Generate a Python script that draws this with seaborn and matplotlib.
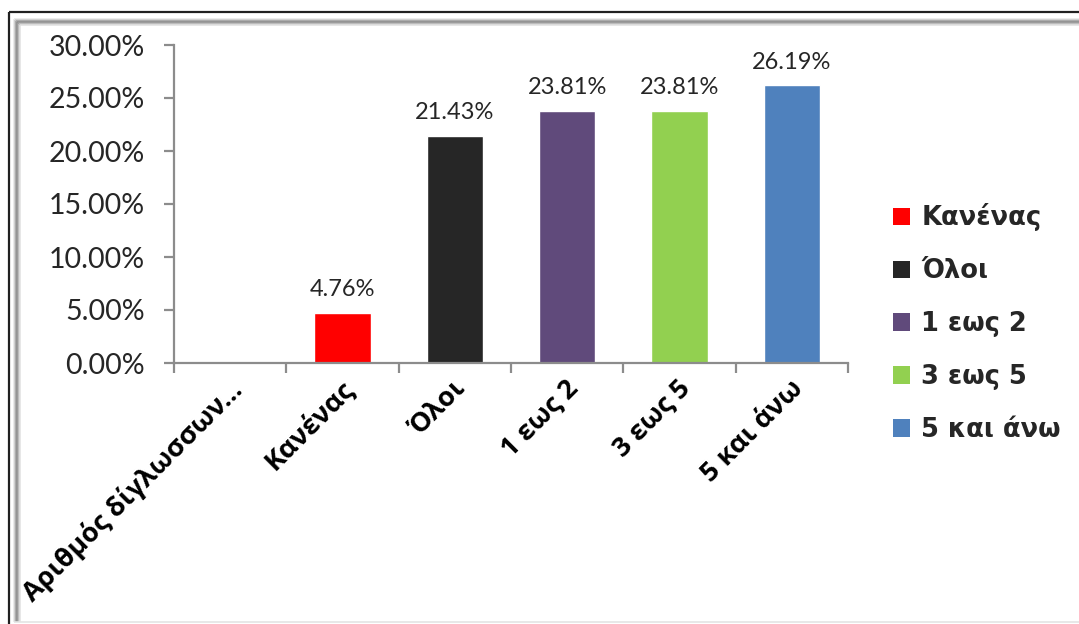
import matplotlib
matplotlib.use("Agg")
import matplotlib.pyplot as plt
from matplotlib.lines import Line2D
from matplotlib.patches import Patch
from matplotlib.ticker import FuncFormatter, MultipleLocator
from matplotlib.transforms import ScaledTranslation
import numpy as np
import pandas as pd
import seaborn as sns

categories = ["Αριθμός δίγλωσσων...", "Κανένας", "Όλοι", "1 εως 2", "3 εως 5", "5 και άνω"]
values = [np.nan, 4.76, 21.43, 23.81, 23.81, 26.19]
colors = ["#FFFFFF", "#FF0000", "#262626", "#604A7B", "#92D050", "#4F81BD"]
legend_labels = ["Κανένας", "Όλοι", "1 εως 2", "3 εως 5", "5 και άνω"]

sns.set_theme(style="white")
plt.rcParams["font.family"] = ["DejaVu Sans"]

W, H = 1079, 624
fig = plt.figure(figsize=(W / 100, H / 100), dpi=100)
fig.patch.set_facecolor("white")

def fx(x):
    return x / W

def fy(y):
    return 1 - y / H

ax = fig.add_axes([fx(174), fy(363), fx(848) - fx(174), fy(45) - fy(363)])

df = pd.DataFrame({"category": categories, "value": values})
palette = dict(zip(categories, colors))
sns.barplot(data=df, x="category", y="value", hue="category", order=categories,
            hue_order=categories, palette=palette, width=0.5, dodge=False,
            legend=False, saturation=1, ax=ax)

ax.set_xlim(-0.5, len(categories) - 0.5)
ax.set_ylim(0, 30)
ax.yaxis.set_major_locator(MultipleLocator(5))
ax.yaxis.set_major_formatter(FuncFormatter(lambda v, _: f"{v:.2f}%"))
ax.set_xlabel("")
ax.set_ylabel("")

num_font = ["Lato", "DejaVu Sans"]

# value labels above each bar
for i, v in enumerate(values):
    if np.isnan(v):
        continue
    ax.annotate(f"{v:.2f}%", (i, v), xytext=(0, 9), textcoords="offset points",
                ha="center", va="bottom", fontsize=17, color="#262626",
                family=num_font, fontweight="normal")

# axes styling
for side in ["top", "right"]:
    ax.spines[side].set_visible(False)
for side in ["left", "bottom"]:
    ax.spines[side].set_color("#8c8c8c")
    ax.spines[side].set_linewidth(1.6)

ax.set_xticks(np.arange(len(categories) + 1) - 0.5, minor=True)
ax.tick_params(axis="x", which="major", length=0, pad=9)
ax.tick_params(axis="x", which="minor", length=7, width=1.6, color="#8c8c8c",
               direction="out", bottom=True)
ax.tick_params(axis="y", length=7, width=1.6, color="#8c8c8c", direction="out",
               left=True, pad=14)
for lab in ax.get_yticklabels():
    lab.set_family(num_font)
    lab.set_fontweight("normal")
    lab.set_fontsize(20.5)
    lab.set_color("#262626")
ax.set_xticks(range(len(categories)))
ax.set_xticklabels(categories, rotation=45, ha="right", va="top", rotation_mode="anchor",
                   fontsize=19.5, fontweight="bold", family=["Open Sans", "DejaVu Sans"],
                   color="black")
shift = ScaledTranslation(-2 / 100, 0, fig.dpi_scale_trans)
for lab in ax.get_xticklabels():
    lab.set_transform(lab.get_transform() + shift)

# legend
handles = [Patch(facecolor=palette[c], edgecolor="none") for c in legend_labels]
leg = fig.legend(handles, legend_labels, loc="upper left",
                 bbox_to_anchor=(fx(870), fy(180)), frameon=False,
                 handlelength=0.65, handleheight=0.65, handletextpad=0.45,
                 labelspacing=1.05, prop={"family": "DejaVu Sans", "weight": "heavy", "size": 18.5})

# chart frame with bevelled edge
def hline(y, x0, x1, color, lw):
    fig.add_artist(Line2D([fx(x0), fx(x1)], [fy(y), fy(y)], color=color, lw=lw,
                          transform=fig.transFigure, solid_capstyle="butt"))

def vline(x, y0, y1, color, lw):
    fig.add_artist(Line2D([fx(x), fx(x)], [fy(y0), fy(y1)], color=color, lw=lw,
                          transform=fig.transFigure, solid_capstyle="butt"))

hline(12, 9, W, "#202020", 1.6)
vline(9, 12, H, "#202020", 1.6)
band = ["#e6e6e6", "#c8c8c8", "#a0a0a0", "#8a8a8a", "#9a9a9a", "#c0c0c0", "#e0e0e0"]
for k, c in enumerate(band):
    hline(19 + k, 14 + k, W, c, 1.1)
    vline(14 + k, 19 + k, 622, c, 1.1)
hline(622, 14, W, "#e4e4e4", 1.2)

fig.savefig("out.png", dpi=100)
